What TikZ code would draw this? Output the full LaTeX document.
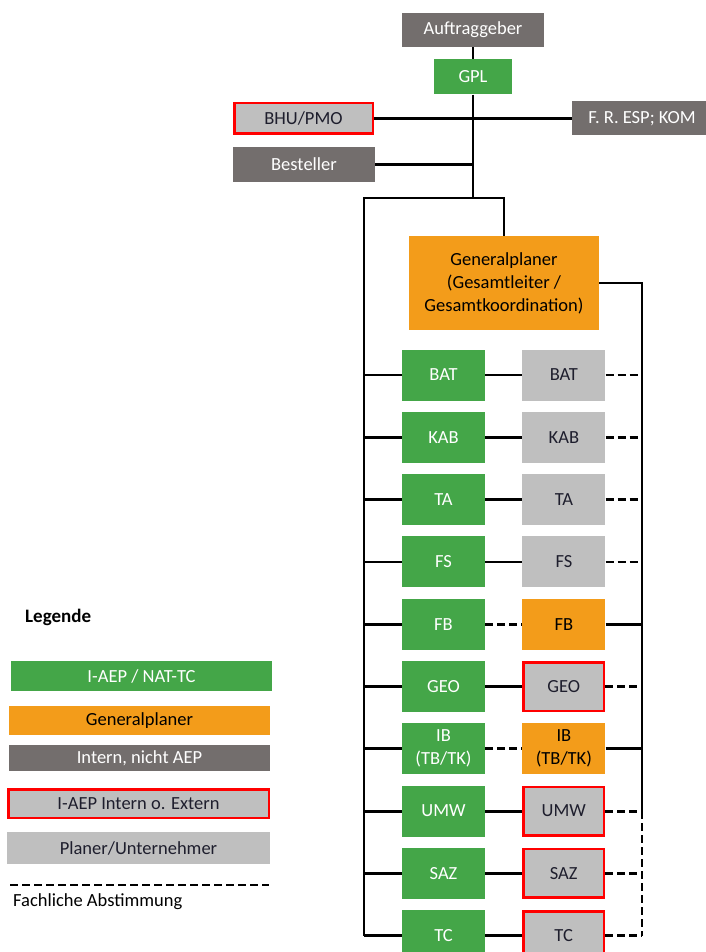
\documentclass[tikz,border=0pt]{standalone}
\usepackage{fontspec}
\setmainfont{Carlito}
\usetikzlibrary{
    positioning,
    calc
}
\definecolor{aepgreen}{RGB}{68,166,72}
\definecolor{gporange}{RGB}{243,156,26}
\definecolor{interngray}{RGB}{115,110,109}
\definecolor{planergray}{RGB}{191,191,191}
\definecolor{planertext}{RGB}{30,30,45}

\begin{document}
\begin{tikzpicture}[
        x=1pt, y=-1pt,
        node distance=10.9pt and 37pt,
        every node/.style={font=\fontsize{18.5}{23}\selectfont},
        box/.style={
            rectangle,
            minimum width=83pt,
            minimum height=51pt,
            align=center,
            inner sep=1pt
        },
        aep/.style={box, fill=aepgreen, text=white},
        gplan/.style={box, fill=gporange, text=black},
        intern/.style={box, fill=interngray, text=white},
        planer/.style={box, fill=planergray, text=planertext},
        extern/.style={
            planer,
            draw=red,
            line width=2.5pt,
            minimum width=80.5pt,
            minimum height=48.5pt
        },
        link/.style={line width=2.8pt, draw=black},
        fachlich/.style={link, dash pattern=on 8pt off 4pt},
        legbox/.style={minimum width=261pt, minimum height=30pt}
    ]
        \useasboundingbox (0,0) rectangle (705,952);

        % Auftraggeber side
        \node[intern, minimum width=142pt, minimum height=34pt] (auftraggeber)
            at (473,30) {Auftraggeber};
        \node[aep, minimum width=78pt, minimum height=35pt,
            below=12pt of auftraggeber] (gpl) {GPL};
        \node[extern, minimum width=138.5pt, minimum height=30.5pt] (bhu)
            at (303.5,118.5) {BHU/PMO};
        \node[intern, minimum width=140pt, minimum height=34pt] (fresp)
            at (642,118.5) {F. R. ESP; KOM};
        \node[intern, minimum width=142pt, minimum height=35pt] (besteller)
            at (304,164.5) {Besteller};

        \coordinate (fork) at (473,198);
        \coordinate (lbus) at (364,198);
        \coordinate (rbus) at (642,283);

        \draw[link] (auftraggeber) -- (gpl);
        \draw[link] (gpl) -- (fork);
        \draw[link] (bhu) -- (fresp);
        \draw[link] (besteller) -- (besteller -| fork);

        % Generalplaner
        \node[gplan, minimum width=190pt, minimum height=94pt] (genplaner)
            at (504,283) {Generalplaner\\(Gesamtleiter /\\Gesamtkoordination)};

        % Fachbereiche I-AEP
        \node[aep] (aepbat) at (443.5,375) {BAT};
        \node[aep, below=of aepbat] (aepkab) {KAB};
        \node[aep, below=of aepkab] (aepta) {TA};
        \node[aep, below=of aepta] (aepfs) {FS};
        \node[aep, below=of aepfs] (aepfb) {FB};
        \node[aep, below=of aepfb] (aepgeo) {GEO};
        \node[aep, below=of aepgeo] (aepib) {IB\\(TB/TK)};
        \node[aep, below=of aepib] (aepumw) {UMW};
        \node[aep, below=of aepumw] (aepsaz) {SAZ};
        \node[aep, below=of aepsaz] (aeptc) {TC};

        % Planer / Unternehmer
        \node[planer, right=of aepbat] (plbat) {BAT};
        \node[planer, right=of aepkab] (plkab) {KAB};
        \node[planer, right=of aepta] (plta) {TA};
        \node[planer, right=of aepfs] (plfs) {FS};
        \node[gplan, right=of aepfb] (plfb) {FB};
        \node[extern, right=of aepgeo] (plgeo) {GEO};
        \node[gplan, right=of aepib] (plib) {IB\\(TB/TK)};
        \node[extern, right=of aepumw] (plumw) {UMW};
        \node[extern, right=of aepsaz] (plsaz) {SAZ};
        \node[extern, right=of aeptc] (pltc) {TC};

        % Buses
        \draw[link] (genplaner.north) |- (lbus) -- (lbus |- aeptc);
        \draw[link] (genplaner.east) -| (rbus |- plumw);
        \draw[fachlich] (rbus |- plumw) -- (rbus |- pltc);

        \draw[link] (lbus |- aepbat) -- (aepbat);
        \draw[link] (lbus |- aepkab) -- (aepkab);
        \draw[link] (lbus |- aepta) -- (aepta);
        \draw[link] (lbus |- aepfs) -- (aepfs);
        \draw[link] (lbus |- aepfb) -- (aepfb);
        \draw[link] (lbus |- aepgeo) -- (aepgeo);
        \draw[link] (lbus |- aepib) -- (aepib);
        \draw[link] (lbus |- aepumw) -- (aepumw);
        \draw[link] (lbus |- aepsaz) -- (aepsaz);
        \draw[link] (lbus |- aeptc) -- (aeptc);

        \draw[link] (aepbat) -- (plbat);
        \draw[link] (aepkab) -- (plkab);
        \draw[link] (aepta) -- (plta);
        \draw[link] (aepfs) -- (plfs);
        \draw[fachlich] (aepfb) -- (plfb);
        \draw[link] (aepgeo) -- (plgeo);
        \draw[fachlich] (aepib) -- (plib);
        \draw[link] (aepumw) -- (plumw);
        \draw[link] (aepsaz) -- (plsaz);
        \draw[link] (aeptc) -- (pltc);

        \draw[fachlich] (plbat) -- (rbus |- plbat);
        \draw[fachlich] (plkab) -- (rbus |- plkab);
        \draw[fachlich] (plta) -- (rbus |- plta);
        \draw[fachlich] (plfs) -- (rbus |- plfs);
        \draw[link] (plfb) -- (rbus |- plfb);
        \draw[fachlich] (plgeo) -- (rbus |- plgeo);
        \draw[link] (plib) -- (rbus |- plib);
        \draw[fachlich] (plumw) -- (rbus |- plumw);
        \draw[fachlich] (plsaz) -- (rbus |- plsaz);
        \draw[fachlich] (pltc) -- (rbus |- pltc);

        % Legende
        \node[anchor=west, inner sep=0pt, font=\fontsize{19}{23}\selectfont\bfseries]
            (legende) at (25,617) {Legende};
        \node[aep, legbox] (legaep) at (141.5,676) {I-AEP / NAT-TC};
        \node[gplan, legbox, minimum height=29pt] (leggp) at (139.5,720.5) {Generalplaner};
        \node[intern, legbox, minimum height=26pt] (legintern) at (139.5,758) {Intern, nicht AEP};
        \node[extern, legbox, minimum width=260.5pt, minimum height=28.5pt]
            (legextern) at (138.5,803.5) {I-AEP Intern o. Extern};
        \node[planer, legbox, minimum width=263pt, minimum height=32pt]
            (legplaner) at (138.5,848) {Planer/Unternehmer};

        \coordinate (legdashA) at (10,885);
        \coordinate (legdashB) at (269,885);
        \draw[fachlich] (legdashA) -- (legdashB);
        \node[anchor=west, inner sep=0pt] (legfach) at (13,902) {Fachliche Abstimmung};
    \end{tikzpicture}
\end{document}
